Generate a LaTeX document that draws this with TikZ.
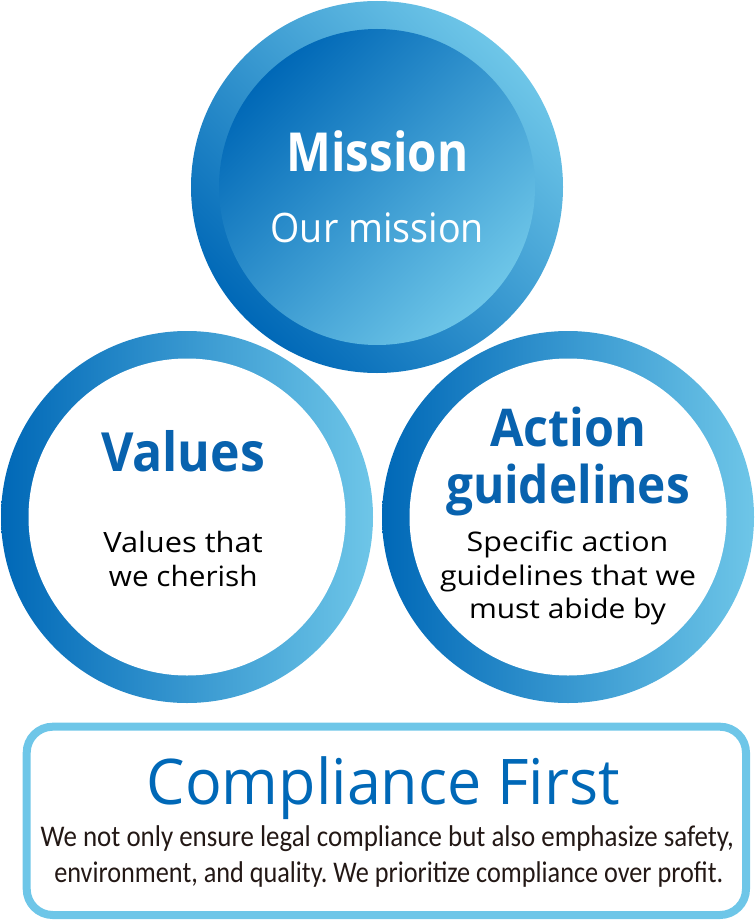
\documentclass[tikz,border=0pt]{standalone}
\usepackage{fontspec}
\usepackage{graphicx}
\setmainfont{Open Sans}
\newfontfamily\bodyfont{Carlito}
\definecolor{dblue}{HTML}{0068B7}
\definecolor{lblue}{HTML}{6EC6E8}
\definecolor{hblue}{HTML}{0862AE}
\definecolor{cblue}{HTML}{0068B7}
\definecolor{ink}{HTML}{231815}
\newcommand{\fs}[1]{\fontsize{#1}{#1}\selectfont}
\newcommand{\fitw}[2]{\resizebox{#1}{\height}{#2}}
\frenchspacing
\tikzset{
  txt/.style={anchor=base, inner sep=0pt, outer sep=0pt},
  headw/.style={txt, text=white, font=\bfseries\fs{53.8pt}},
  subw/.style={txt, text=white, font=\fs{40.6pt}},
  headb/.style={txt, text=hblue, font=\bfseries\fs{54pt}},
  subk/.style={txt, text=black, font=\fs{28pt}},
  ringshade/.style={left color=dblue, right color=lblue},
}
\begin{document}
\begin{tikzpicture}[x=1pt, y=-1pt]
\useasboundingbox (0,0) rectangle (755,923);
% Mission disc
\shade[top color=lblue, bottom color=dblue, shading angle=-45] (377,187) circle (186pt);
\shade[top color=dblue, bottom color=lblue, shading angle=45] (377,187) circle (158pt);
% Values ring
\shade[ringshade] (187,517) circle (186pt);
\fill[white] (187,517) circle (158.5pt);
% Action ring
\shade[ringshade] (568,517) circle (186pt);
\fill[white] (568,517) circle (158.5pt);
% Compliance box
\draw[line width=8pt, lblue, rounded corners=26pt] (26.7,726.7) rectangle (746,915);

% texts
\node[headw] (mis) at (377.5,171.7) {\fitw{181.6pt}{Mission}};
\node[subw] (mis2) at (377.3,242.7) {\fitw{213.3pt}{Our mission}};

\node[headb] (val) at (183,471.7) {\fitw{164pt}{Values}};
\node[subk] (val1) at (183,552.3) {\fitw{159.3pt}{Values that}};
\node[subk] (val2) at (183.3,586.7) {\fitw{148.7pt}{we cherish}};

\node[headb, font=\bfseries\fs{52pt}] (act1) at (568,446.7) {\fitw{156pt}{Action}};
\node[headb, font=\bfseries\fs{52pt}] (act2) at (568,503.3) {\fitw{244pt}{guidelines}};
\node[subk, font=\fs{27pt}] (act3) at (567.5,551.7) {\fitw{201.7pt}{Specific action}};
\node[subk, font=\fs{27pt}] (act4) at (568,585.7) {\fitw{256pt}{guidelines that we}};
\node[subk, font=\fs{27pt}] (act5) at (567.5,618.3) {\fitw{197pt}{must abide by}};

\node[txt, text=cblue, font=\fs{63pt}] (cf) at (383.3,804) {\fitw{473.3pt}{Compliance First}};
\node[txt, text=ink, font=\bodyfont\fs{30pt}] (b1) at (387.3,846.7) {\fitw{693.3pt}{We not only ensure legal compliance but also emphasize safety,}};
\node[txt, text=ink, font=\bodyfont\fs{30pt}] (b2) at (388.8,882.7) {\fitw{669pt}{environment, and quality. We prioritize compliance over profit.}};
\end{tikzpicture}
\end{document}
